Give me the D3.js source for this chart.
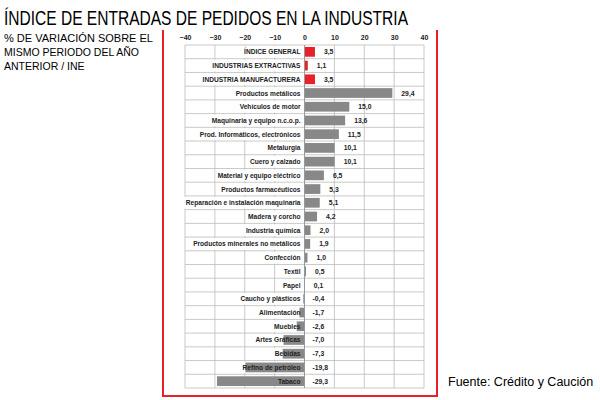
<!DOCTYPE html>
<html><head><meta charset="utf-8">
<script src="https://cdn.jsdelivr.net/npm/d3@7"></script>
<style>body{margin:0;background:#fff;}text{font-family:"Liberation Sans",Arial,sans-serif;}</style>
</head><body><svg id="c" width="600" height="400"></svg>
<script>
const categories = ["ÍNDICE GENERAL","INDUSTRIAS EXTRACTIVAS","INDUSTRIA MANUFACTURERA","Productos metálicos","Vehículos de motor","Maquinaria y equipo n.c.o.p.","Prod. Informáticos, electrónicos","Metalurgia","Cuero y calzado","Material y equipo eléctrico","Productos farmacéuticos","Reparación e instalación maquinaria","Madera y corcho","Industria química","Productos minerales no metálicos","Confección","Textil","Papel","Caucho y plásticos","Alimentación","Muebles","Artes Gráficas","Bebidas","Refino de petróleo","Tabaco"];
const values = [3.5,1.1,3.5,29.4,15.0,13.6,11.5,10.1,10.1,6.5,5.3,5.1,4.2,2.0,1.9,1.0,0.5,0.1,-0.4,-1.7,-2.6,-7.0,-7.3,-19.8,-29.3];
const ticks = [-40,-30,-20,-10,0,10,20,30,40];

const svg = d3.select("#c");
const x = d3.scaleLinear().domain([-40,40]).range([185,424]);
const y = d3.scaleBand().domain(categories).range([45,388]);
const fmt = v => v.toFixed(1).replace(".", ",");

// red frame
svg.append("path").attr("d","M163,30V396H437V30").attr("fill","none").attr("stroke","#e8202a").attr("stroke-width",2);

// title
svg.append("text").attr("x",4).attr("y",25).attr("font-size",21).attr("font-family","DejaVu Sans Condensed")
  .attr("textLength",404).attr("lengthAdjust","spacingAndGlyphs").text("ÍNDICE DE ENTRADAS DE PEDIDOS EN LA INDUSTRIA");
["% DE VARIACIÓN SOBRE EL","MISMO PERIODO DEL AÑO","ANTERIOR / INE"].forEach((t,i)=>
  svg.append("text").attr("x",4).attr("y",42+i*14).attr("font-size",i==0?11:10.5).attr("font-family","DejaVu Sans Condensed").text(t));
svg.append("text").attr("x",448).attr("y",386).attr("font-size",12.5).attr("font-family","Open Sans").text("Fuente: Crédito y Caución");

// grid
const g = svg.append("g");
g.selectAll(".v").data(ticks).join("line").attr("x1",d=>x(d)).attr("x2",d=>x(d)).attr("y1",45).attr("y2",388).attr("stroke","#bbb").attr("stroke-width",0.8);
g.selectAll(".h").data(categories.concat(["end"])).join("line").attr("x1",x(-40)).attr("x2",x(40))
  .attr("y1",(d,i)=>45+i*y.step()).attr("y2",(d,i)=>45+i*y.step()).attr("stroke","#bbb").attr("stroke-width",0.8);

// axis
const ax = svg.append("g").attr("transform","translate(0,45)").call(d3.axisTop(x).tickValues(ticks).tickSize(0).tickPadding(5));
ax.select(".domain").remove();
ax.selectAll("text").attr("font-size",7).attr("font-weight","bold").attr("fill","#222");

const bgG = svg.append("g"), barG = svg.append("g"), labG = svg.append("g");

// labels with white backgrounds
categories.forEach((c,i)=>{
  const t = labG.append("text").attr("x",x(0)-4).attr("y",y(c)+y.bandwidth()/2+2.5).attr("text-anchor","end")
    .attr("font-size",6.6).attr("font-weight","bold").attr("fill","#222").text(c);
  const b = t.node().getBBox();
  bgG.append("rect").attr("x",b.x-2).attr("y",y(c)+1).attr("width",b.width+4).attr("height",y.bandwidth()-2).attr("fill","#fff");
});

// bars
barG.selectAll("rect").data(values).join("rect")
  .attr("x",d=>x(Math.min(0,d))).attr("width",d=>Math.abs(x(d)-x(0)))
  .attr("y",(d,i)=>y(categories[i])+2).attr("height",y.bandwidth()-4)
  .attr("fill",(d,i)=>i<3?"#e8202a":"#888");

// values
svg.selectAll(".val").data(values).join("text")
  .attr("x",d=>x(Math.max(0,d))+(d>=0?9:8)).attr("y",(d,i)=>y(categories[i])+y.bandwidth()/2+2.5)
  .attr("font-size",6.8).attr("font-weight","bold").attr("fill","#222").text(fmt);

// zero line
svg.append("line").attr("x1",x(0)).attr("x2",x(0)).attr("y1",45).attr("y2",388).attr("stroke","#999");
</script></body></html>
